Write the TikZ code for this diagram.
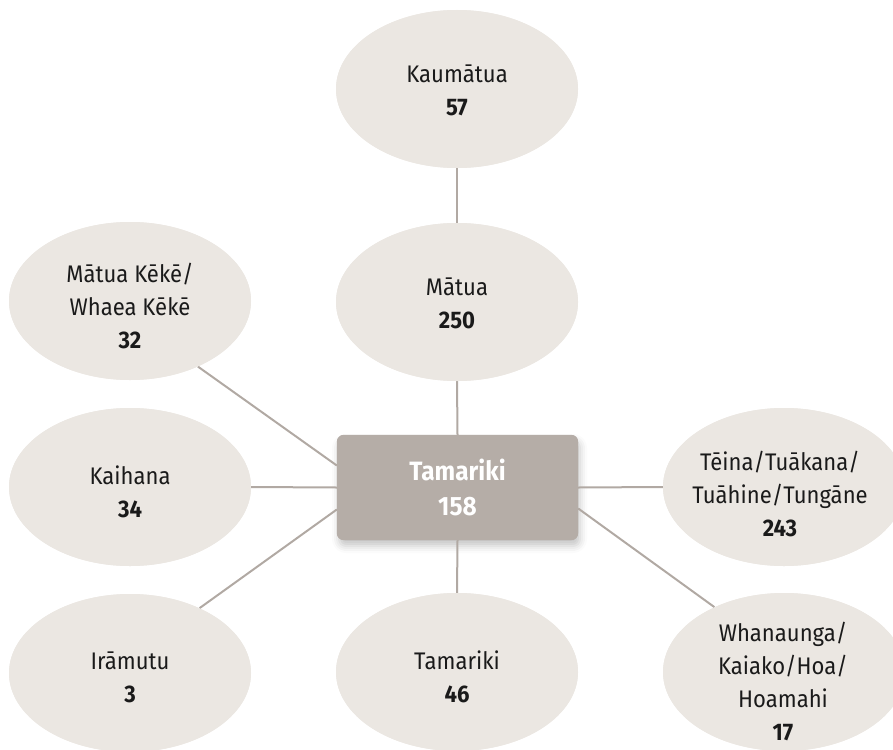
\documentclass[tikz,border=0pt]{standalone}
\usepackage{fontspec}
\setmainfont{Fira Sans}[FakeStretch=0.92]
\usetikzlibrary{shapes.geometric,shadows.blur}
\definecolor{ellfill}{HTML}{EBE7E2}
\definecolor{boxfill}{HTML}{B5ADA7}
\definecolor{linecol}{HTML}{B1A9A3}
\definecolor{txt}{HTML}{1A1A1A}
\tikzset{
  oval/.style={ellipse, fill=ellfill, draw=none, minimum width=242pt, minimum height=158pt, inner sep=0pt},
  lab/.style={align=center, text=txt, font=\fontsize{24}{33}\selectfont, inner sep=0pt},
  conn/.style={draw=linecol, line width=2pt},
  centre/.style={rectangle, rounded corners=7pt, fill=boxfill, minimum width=241pt, minimum height=105pt, inner sep=0pt,
    blur shadow={shadow xshift=2pt, shadow yshift=-6pt, shadow blur radius=7pt, shadow opacity=22}},
}
\begin{document}
\begin{tikzpicture}[x=1pt,y=-1pt]
\useasboundingbox (0,0) rectangle (893,749);
% ellipse nodes (shapes only, texts separately)
\path
  node[oval] (kau) at (457,89) {}
  node[oval] (mat) at (457,302) {}
  node[oval] (mk)  at (130,301) {}
  node[oval] (kai) at (130,487) {}
  node[oval] (ira) at (130,673) {}
  node[oval] (tam) at (457,672) {}
  node[oval] (tei) at (784,487) {}
  node[oval] (wha) at (784,672) {};
\node[centre] (box) at (457.5,487.5) {};
% connectors
\draw[conn] (kau.south) -- (mat.north);
\draw[conn] (mat.south) -- (box.north);
\draw[conn] (box.south) -- (tam.north);
\draw[conn] (box.west) -- (kai.east);
\draw[conn] (box.east) -- (tei.west);
\draw[conn] ([yshift=22pt]box.west) -- (mk.-44);
\draw[conn] ([yshift=-22pt]box.west) -- (ira.43);
\draw[conn] ([yshift=-21pt]box.east) -- (wha.137);
% redraw shapes over connector ends
\foreach \n in {kau,mat,mk,kai,ira,tam,tei,wha}{
  \fill[ellfill] (\n) ellipse[x radius=121pt, y radius=79pt];
}
\fill[boxfill, rounded corners=7pt] (box.south west) rectangle (box.north east);
% texts
\node[lab] (kaut) at (457,90.5) {Kaumātua\\\textbf{57}};
\node[lab] (matt) at (457,303.5) {Mātua\\\textbf{250}};
\node[lab] (mkt)  at (130,306.5) {Mātua Kēkē/\\Whaea Kēkē\\\textbf{32}};
\node[lab] (kait) at (130,492) {Kaihana\\\textbf{34}};
\node[lab] (irat) at (130,677) {Irāmutu\\\textbf{3}};
\node[lab] (tamt) at (457,677) {Tamariki\\\textbf{46}};
\node[lab] (teit) at (780,494) {Tēina/Tuākana/\\Tuāhine/Tungāne\\\textbf{243}};
\node[lab] (what) at (783,681) {Whanaunga/\\Kaiako/Hoa/\\Hoamahi\\\textbf{17}};
\node[lab, text=white, font=\fontsize{26.5}{35}\selectfont\bfseries] (boxt) at (box.center) {Tamariki\\158};
\end{tikzpicture}
\end{document}
